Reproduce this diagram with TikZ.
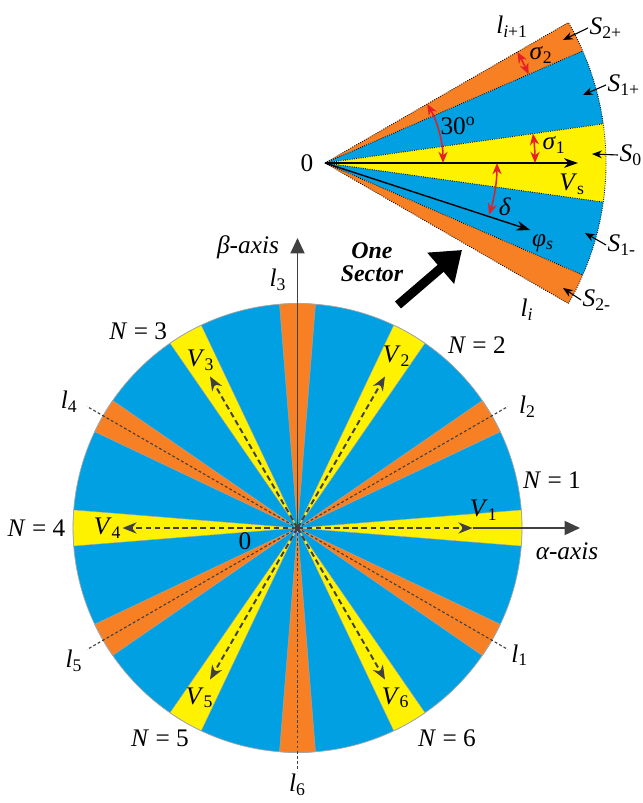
\documentclass[tikz,border=0pt]{standalone}
\usepackage{fontspec}
\setmainfont{Liberation Serif}
\usetikzlibrary{arrows.meta, calc}
\definecolor{bandBlue}{RGB}{0,160,226}
\definecolor{bandOrange}{RGB}{248,128,36}
\definecolor{bandYellow}{RGB}{255,242,0}
\definecolor{axisGray}{RGB}{64,64,64}
\definecolor{markRed}{RGB}{230,30,40}
\newcommand{\labfont}{\fontsize{18}{16}\selectfont}
\newcommand{\symb}[2]{\textit{#1}\textsubscript{#2}}
\tikzset{
  lbl/.style={font=\labfont, inner sep=1pt},
  % Band edges
  wedgeEdge/.style={draw=gray!70, line width=0.3pt},
  sectorEdge/.style={black, line width=0.6pt, densely dotted},
  % Arrows of the circle
  vecArrow/.style={axisGray, line width=1.4pt, dash pattern=on 4pt off 2.5pt,
    -{Stealth[length=10pt,width=8pt]}},
  sepLine/.style={axisGray, line width=0.8pt, dash pattern=on 2pt off 1.6pt},
  axisArrow/.style={axisGray, line width=1.3pt, -{Triangle[length=11pt,width=10pt]}},
  % Arrows of the sector
  sectorVec/.style={black, line width=1pt, -{Stealth[length=10pt,width=7pt]}},
  redArrow/.style={markRed, line width=1.1pt,
    {Stealth[length=8pt,width=6.5pt]}-{Stealth[length=8pt,width=6.5pt]}},
  pointer/.style={black, line width=0.8pt, -{Stealth[length=7pt,width=5.5pt]}},
  bigArrow/.style={black, line width=6.5pt, -{Triangle[length=20pt,width=28pt]}},
}

\begin{document}
\begin{tikzpicture}[x=0.025cm, y=0.025cm]
  \useasboundingbox (0,0) rectangle (643,803);

  %% ── Circle of sectors ──
  \coordinate (O) at (297.5,275);
  \def\R{224.5}
  \fill[bandBlue] (O) circle (\R);
  \foreach \a in {0,60,...,300}{
    \path[fill=bandYellow, wedgeEdge] (O) -- ($(O)+(\a-4.6:\R)$)
      arc[start angle=\a-4.6, end angle=\a+4.6, radius=\R] -- cycle;
    \path[fill=bandOrange, wedgeEdge] (O) -- ($(O)+(\a+25.4:\R)$)
      arc[start angle=\a+25.4, end angle=\a+34.6, radius=\R] -- cycle;
  }
  \draw[gray!70, line width=0.5pt] (O) circle (\R);

  %% ── Sector lines l ──
  \foreach \a/\n in {-30/1, 30/2, 150/4, 210/5, 270/6}
    \draw[sepLine] (O) -- ($(O)+(\a:243)$) coordinate (e\n);
  \node[lbl] (l1) at ($(O)+(-29.8:256)$) {\symb{l}{1}};
  \node[lbl] (l2) at ($(O)+(27.8:260)$)  {\symb{l}{2}};
  \node[lbl] (l3) at (278,523)           {\symb{l}{3}};
  \node[lbl] (l4) at ($(O)+(151:261)$)   {\symb{l}{4}};
  \node[lbl] (l5) at ($(O)+(210.7:260)$) {\symb{l}{5}};
  \node[lbl] (l6) at ($(O)+(270:257)$)   {\symb{l}{6}};

  %% ── Voltage vectors ──
  \foreach \a [count=\k] in {0,60,...,300}
    \draw[vecArrow] (O) -- ($(O)+(\a:175)$) coordinate (v\k);
  \node[lbl] (V1) at ($(O)+(5.5:187)$) {\symb{V}{1}};
  \node[lbl] (V2) at ($(O)+(60:198)$)  {\symb{V}{2}};
  \node[lbl] (V3) at ($(O)+(120:194)$) {\symb{V}{3}};
  \node[lbl] (V4) at ($(O)+(180:190)$) {\symb{V}{4}};
  \node[lbl] (V5) at ($(O)+(240:196)$) {\symb{V}{5}};
  \node[lbl] (V6) at ($(O)+(300:196)$) {\symb{V}{6}};

  %% ── Axes ──
  \coordinate (alphaTip) at (580,275);
  \coordinate (betaTip) at (297.5,565);
  \draw[axisArrow] (v1) -- (alphaTip);
  \draw[axisArrow] (O) -- (betaTip);
  \node[lbl] (alphaLbl) at (567,252) {\textit{α-axis}};
  \node[lbl] (betaLbl)  at (248,556) {\textit{β-axis}};
  \node[lbl] (zeroC)    at (245,262) {0};

  %% ── Sector numbers ──
  \node[lbl] (N1) at ($(O)+(10.7:259)$)  {\textit{N} = 1};
  \node[lbl] (N2) at ($(O)+(45.5:256)$)  {\textit{N} = 2};
  \node[lbl] (N3) at ($(O)+(129:253)$)   {\textit{N} = 3};
  \node[lbl] (N4) at ($(O)+(180:261)$)   {\textit{N} = 4};
  \node[lbl] (N5) at ($(O)+(236.8:251)$) {\textit{N} = 5};
  \node[lbl] (N6) at ($(O)+(-54.6:258)$) {\textit{N} = 6};

  %% ── One sector, enlarged ──
  \coordinate (A) at (325,640);
  \def\Rs{281}
  \foreach \s/\e/\c in {23.5/30/bandOrange, 8/23.5/bandBlue, -8/8/bandYellow,
                        -23.5/-8/bandBlue, -30/-23.5/bandOrange}
    \fill[\c] (A) -- ($(A)+(\s:\Rs)$)
      arc[start angle=\s, end angle=\e, radius=\Rs] -- cycle;
  \foreach \a in {-30,-23.5,-8,8,23.5,30}
    \draw[sectorEdge] (A) -- ($(A)+(\a:\Rs)$);
  \draw[sectorEdge] ($(A)+(-30:\Rs)$) arc[start angle=-30, end angle=30, radius=\Rs];

  \draw[sectorVec] (A) -- ($(A)+(0:253)$) coordinate (vsTip);
  \draw[sectorVec] (A) -- ($(A)+(-18.1:216)$) coordinate (phiTip);

  \draw[redArrow] ($(A)+(0:118)$) arc[start angle=0, end angle=30, radius=118];
  \draw[redArrow] ($(A)+(0:210)$) arc[start angle=0, end angle=8, radius=210];
  \draw[redArrow] ($(A)+(23.5:222)$) arc[start angle=23.5, end angle=30, radius=222];
  \draw[redArrow] ($(A)+(0:172)$) arc[start angle=0, end angle=-17.5, radius=172];

  \node[lbl] (zeroS) at (307,640) {0};
  \node[lbl] (vsLbl)  at (572,619) {\symb{V}{s}};
  \node[lbl] (phiLbl) at (543,560) {\symb{φ}{\textit{s}}};
  \node[lbl] (angLbl) at (458,677) {30\textsuperscript{o}};
  \node[lbl] (sig1)   at (554,658) {\symb{σ}{1}};
  \node[lbl] (sig2)   at (541,748) {\symb{σ}{2}};
  \node[lbl] (delta)  at (505,596) {\textit{δ}};
  \node[lbl] (liTop)  at (512,776) {\symb{l}{\textit{i}+1}};
  \node[lbl] (liBot)  at (527,493) {\symb{l}{\textit{i}}};

  %% ── Band names ──
  \node[lbl, anchor=west] (s2p) at (588,775) {\symb{S}{2+}};
  \node[lbl, anchor=west] (s1p) at (606,718) {\symb{S}{1+}};
  \node[lbl, anchor=west] (s0)  at (618,648) {\symb{S}{0}};
  \node[lbl, anchor=west] (s1m) at (606,558) {\symb{S}{1-}};
  \node[lbl, anchor=west] (s2m) at (581,503) {\symb{S}{2-}};
  \coordinate (b2p) at (563,763);
  \coordinate (b1p) at (583,708);
  \coordinate (b0)  at (592,649);
  \coordinate (b1m) at (585,570);
  \coordinate (b2m) at (563,515);
  \draw[pointer] (s2p.west) -- (b2p);
  \draw[pointer] (s1p.west) -- (b1p);
  \draw[pointer] (s0.west)  -- (b0);
  \draw[pointer] (s1m.west) -- (b1m);
  \draw[pointer] (s2m.west) -- (b2m);

  %% ── Pointer to the sector ──
  \node[lbl, font=\fontsize{17}{16}\selectfont\bfseries\itshape, align=center]
    (oneSec) at (372,541) {One\\Sector};
  \coordinate (bigTail) at (398,498);
  \coordinate (bigHead) at (462,553);
  \draw[bigArrow] (bigTail) -- (bigHead);

\end{tikzpicture}
\end{document}
